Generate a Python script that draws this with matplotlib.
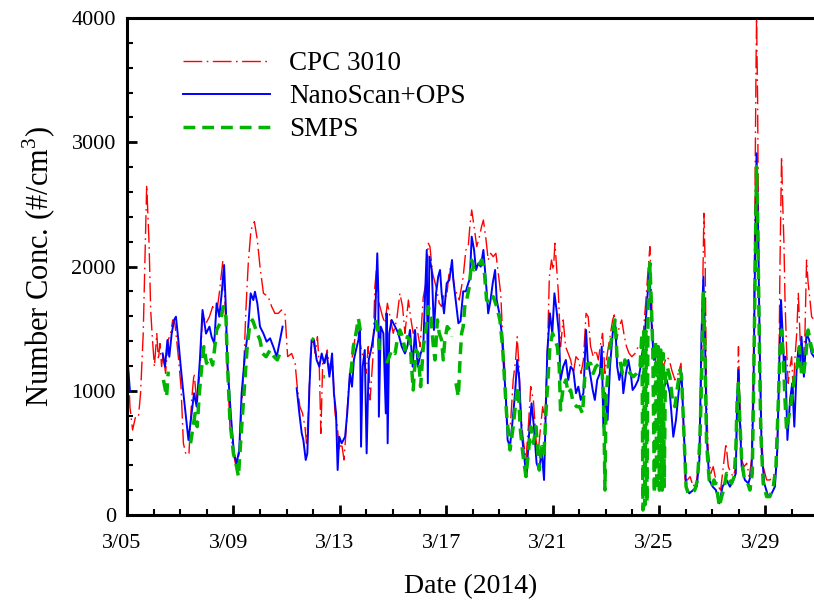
import numpy as np
import matplotlib
matplotlib.use("Agg")
import matplotlib.pyplot as plt
from matplotlib.ticker import MultipleLocator
from matplotlib.transforms import ScaledTranslation

plt.rcParams['font.family'] = ['Liberation Serif', 'DejaVu Serif']
plt.rcParams['mathtext.fontset'] = 'custom'
plt.rcParams['mathtext.rm'] = 'Liberation Serif'

nan = np.nan

# days since 3/05 00:00, number concentration (#/cm3)
cpc_t = [0, 0.11, 0.21, 0.32, 0.43, 0.51, 0.61, 0.74, 0.83, 0.89, 0.95, 1.03, 1.12, 1.18, 1.24, 1.30, 1.36, 1.45,
         1.55, 1.64, 1.72, 1.80, 1.93, 2.03, 2.12, 2.22, 2.33, 2.43, 2.52, 2.62, 2.74, 2.84, 2.97, 3.10, 3.22, 3.37,
         3.47, 3.60, 3.68, 3.77, 3.87, 4.00, 4.10, 4.22, 4.31, 4.40, 4.47, 4.56, 4.66, 4.79, 4.90, 5.00, 5.13, 5.31,
         5.44, 5.56, 5.69, 5.81, 5.94, 6.04, 6.19, 6.32, 6.40, 6.50, 6.60, 6.69, 6.75, 6.82, 6.91, 7.00, 7.08, 7.16,
         7.23, 7.29, 7.36, 7.44, 7.53, 7.63, 7.73, 7.82, 7.91, 7.98, 8.07, 8.16, 8.23, 8.32, 8.41, 8.51, 8.61, 8.70,
         8.79, 8.89, 8.99, 9.07, 9.14, 9.24, 9.32, 9.39, 9.45, 9.51, 9.61, 9.70, 9.79, 9.89, 10.01, 10.14, 10.26,
         10.36, 10.45, 10.58, 10.66, 10.76, 10.89, 11.02, 11.14, 11.24, 11.33, 11.39, 11.49, 11.62, 11.74, 11.83,
         11.92, 12.02, 12.12, 12.21, 12.31, 12.39, 12.49, 12.58, 12.64, 12.74, 12.83, 12.89, 12.96, 13.05, 13.15,
         13.25, 13.33, 13.40, 13.50, 13.58, 13.67, 13.77, 13.87, 13.96, 14.05, 14.12, 14.21, 14.27, 14.34, 14.42,
         14.52, 14.61, 14.67, 14.74, 14.80, 14.90, 15.00, 15.09, 15.18, 15.28, 15.38, 15.46, 15.55, 15.63, 15.71,
         15.80, 15.88, 15.96, 16.03, 16.09, 16.15, 16.22, 16.30, 16.40, 16.49, 16.59, 16.68, 16.78, 16.88, 16.98,
         17.07, 17.16, 17.26, 17.34, 17.43, 17.53, 17.63, 17.72, 17.81, 17.88, 17.97, 18.06, 18.16, 18.26, 18.32,
         18.41, 18.51, 18.60, 18.68, 18.78, 18.88, 18.98, 19.10, 19.22, 19.32, 19.41, 19.51, 19.60, 19.66, 19.72,
         19.76, 19.81, 19.91, 20.04, 20.16, 20.29, 20.39, 20.48, 20.60, 20.73, 20.83, 20.91, 20.98, 21.07, 21.17,
         21.29, 21.42, 21.52, 21.58, 21.64, 21.69, 21.74, 21.79, 21.85, 21.95, 22.04, 22.14, 22.23, 22.32, 22.42,
         22.52, 22.61, 22.71, 22.80, 22.89, 22.94, 22.99, 23.04, 23.11, 23.20, 23.30, 23.40, 23.48, 23.55, 23.61,
         23.65, 23.67, 23.71, 23.75, 23.80, 23.86, 23.92, 24.05, 24.17, 24.30, 24.42, 24.50, 24.55, 24.61, 24.65,
         24.70, 24.74, 24.80, 24.86, 24.93, 24.99, 25.05, 25.11, 25.18, 25.24, 25.30, 25.36, 25.43, 25.49, 25.55,
         25.61, 25.68, 25.74, 25.83]
cpc_v = [1435, 872, 684, 790, 790, 980, 1460, 2656, 2187, 1650, 1435, 1194, 1460, 1248, 1380, 1194, 1300, 1140,
         1408, 1460, 1570, 1543, 1274, 1033, 577, 483, 496, 926, 1140, 926, 1140, 1623, 1543, 1596, 1677, 1623,
         1784, 2039, 1730, 1194, 711, 496, 389, 496, 872, 1248, 1650, 2026, 2294, 2361, 2214, 1999, 1784, 1757,
         1677, 1623, 1623, 1650, 1623, 1274, 1300, 1221, 1033, 872, 818, 711, 577, 818, 1355, 1408, 1300, 1435,
         1194, 657, 1248, 1221, 1328, 1140, 1221, 818, 711, 523, 577, 443, 657, 980, 1194, 1328, 1489, 1462,
         1355, 1248, 1140, 1355, 926, 1248, 1838, 1999, 1730, 1677, 1596, 1543, 1704, 1596, 1462, 1570, 1784,
         1677, 1462, 1730, 1596, 1462, 1516, 1355, 1757, 1865, 2187, 2160, 1945, 1838, 1704, 1677,
         1784, 1757, 1972, 1999, 1838, 1784, 1730, 1838, 1918, 2133, 2160, 2321, 2455, 2321, 2160,
         2240, 2321, 2374, 2213, 2052, 2106, 2079, 2106, 1945, 1784, 1462, 1140, 818, 657, 738,
         1087, 1248, 1435, 1194, 818, 604, 443, 711, 1033, 926, 604, 496, 711, 872, 765,
         1248, 1918, 2052, 1972, 2187, 1999, 1784, 1355, 1570, 1355, 1300, 1248, 1140, 1274, 1248,
         1140, 1248, 1623, 1596, 1355, 1274, 1328, 1248, 1382, 1462, 1140, 1300, 1435, 1570, 1610,
         1408, 1516, 1570, 1462, 1355, 1300, 1274, 1300, 1355, 1380, 1462, 1730, 1999, 2160, 1784,
         1462, 1328, 1194, 1301, 1194, 1274, 1248, 1167, 1087, 1140, 1221, 791, 282, 282, 309,
         228, 282, 496, 926, 1730, 2428, 1999, 926, 523, 335, 389, 282, 228, 201, 389,
         577, 389, 335, 309, 389, 926, 1355, 926, 443, 389, 416, 309, 443, 1194, 2535,
         3609, 3998, 3340, 1999, 1194, 657, 389, 282, 282, 309, 389, 926, 1999, 2884, 2535,
         2187, 1730, 1328, 1060, 1194, 1274, 980, 1248, 1462, 1784, 1462, 1140, 1248, 1462, 2052,
         1865, 1730, 1596, 1570]

nano_t = [0, 0.11, 0.2, 1.34, 1.43, 1.52, 1.59, 1.68, 1.77, 1.84, 1.93, 2.02, 2.12, 2.31, 2.43, 2.52, 2.62, 2.74,
          2.84, 2.97, 3.10, 3.18, 3.28, 3.37, 3.47, 3.56, 3.65, 3.72, 3.77, 3.90, 4.02, 4.12, 4.22, 4.31, 4.44,
          4.54, 4.65, 4.75, 4.81, 4.90, 5.00, 5.13, 5.25, 5.38, 5.50, 5.63, 5.73, 5.85, 6.1, 6.38, 6.48, 6.57,
          6.63, 6.72, 6.78, 6.86, 6.94, 7.03, 7.13, 7.23, 7.32, 7.41, 7.51, 7.61, 7.71, 7.78, 7.86, 7.92, 7.98,
          8.07, 8.20, 8.28, 8.38, 8.46, 8.53, 8.61, 8.70, 8.76, 8.80, 8.86, 8.94, 9.01, 9.09, 9.20, 9.32, 9.41,
          9.45, 9.47, 9.54, 9.64, 9.73, 9.76, 9.80, 9.86, 9.95, 10.08, 10.20, 10.33, 10.45, 10.54, 10.64, 10.74,
          10.83, 10.93, 11.04, 11.14, 11.20, 11.27, 11.31, 11.37, 11.46, 11.54, 11.62, 11.70, 11.77, 11.83, 11.92,
          12.02, 12.12, 12.22, 12.27, 12.37, 12.46, 12.54, 12.64, 12.74, 12.83, 12.89, 12.96, 13.05, 13.12, 13.21,
          13.30, 13.40, 13.50, 13.58, 13.67, 13.75, 13.84, 13.90, 14.00, 14.09, 14.15, 14.25, 14.31, 14.40, 14.50,
          14.59, 14.67, 14.75, 14.84, 14.92, 15.02, 15.11, 15.21, 15.30, 15.40, 15.50, 15.59, 15.68, 15.73, 15.80,
          15.90, 15.99, 16.07, 16.15, 16.24, 16.30, 16.40, 16.50, 16.59, 16.68, 16.78, 16.88, 16.97, 17.06, 17.16,
          17.26, 17.32, 17.41, 17.51, 17.59, 17.68, 17.78, 17.85, 17.91, 17.98, 18.07, 18.16, 18.26, 18.35, 18.43,
          18.51, 18.60, 18.66, 18.76, 18.85, 18.94, 19.01, 19.10, 19.22, 19.29, 19.39, 19.47, 19.56, 19.64, 19.69,
          19.74, 19.81, 19.91, 20.04, 20.16, 20.29, 20.41, 20.54, 20.64, 20.76, 20.85, 20.94, 21.02, 21.14, 21.29,
          21.42, 21.52, 21.60, 21.67, 21.73, 21.79, 21.89, 22.02, 22.14, 22.27, 22.39, 22.54, 22.67, 22.80, 22.89,
          22.94, 22.99, 23.04, 23.11, 23.23, 23.36, 23.48, 23.55, 23.61, 23.67, 23.73, 23.80, 23.86, 23.96, 24.11,
          24.24, 24.36, 24.45, 24.52, 24.59, 24.65, 24.70, 24.75, 24.83, 24.93, 25.01, 25.09, 25.18, 25.24, 25.30,
          25.36, 25.45, 25.55, 25.65, 25.74, 25.83]
nano_v = [1300, 1000, nan, 1300, 1194, 1408, 1274, 1460, 1570, 1596, 1408, 1194, 980, 604, 818, 980, 872, 1248,
          1650, 1460, 1516, 1435, 1382, 1704, 1596, 1784, 2012, 1650, 1248, 818, 496, 416, 523, 980, 1300,
          1460, 1784, 1730, 1797, 1704, 1516, 1460, 1395, 1422, 1355, 1274, 1382, 1516, nan, 1020, 818, 657,
          604, 443, 496, 1033, 1408, 1408, 1248, 1194, 1300, 1221, 1300, 1113, 1300, 980, 818, 362, 630,
          577, 630, 818, 1140, 1033, 1248, 1328, 1408, 1516, 550, 1194, 1328, 496, 1248, 1355, 1516, 2106,
          1784, 791, 1516, 1462, 818, 1623, 577, 1462, 1570, 1516, 1462, 1355, 1300, 1355, 1489, 1194,
          1489, 1194, 1300, 1355, 1730, 2133, 1060, 2079, 1972, 1489, 1784, 1918, 1972, 1784, 1623,
          1865, 1891, 2052, 1891, 1704, 1543, 1560, 1800, 1800, 1865, 1900, 2240, 2133, 1972, 2026,
          1999, 2133, 1865, 1623, 1730, 1865, 1972, 1730, 1623, 1462, 1248, 926, 604, 550, 765,
          980, 1248, 1087, 657, 496, 309, 630, 899, 711, 416, 362, 523, 282, 711, 1300,
          1623, 1462, 1784, 1650, 1462, 1087, 1194, 1248, 1087, 1194, 1167, 980, 1033, 926, 980,
          1489, 1248, 1140, 1006, 926, 1087, 1140, 1355, 711, 980, 765, 1194, 1462, 1570, 1194,
          1087, 1194, 980, 1140, 1248, 1140, 1006, 1033, 1087, 1167, 1328, 1462, 1730, 1999, 1730,
          1462, 1248, 1301, 1194, 1006, 1087, 980, 630, 765, 1033, 1140, 657, 228, 174, 201,
          228, 443, 1462, 1918, 1462, 657, 282, 228, 201, 94, 228, 282, 228, 282, 335,
          926, 1167, 791, 389, 282, 255, 335, 926, 1999, 2911, 2267, 1194, 523, 255, 148,
          174, 228, 523, 1194, 1730, 1462, 1194, 1274, 604, 926, 1060, 711, 1194, 1328, 1194,
          1435, 1113, 1462, 1408, 1301, 1274]

smps_t = [1.37, 1.49, 1.55, 2.0, 2.39, 2.56, 2.64, 2.72, 2.81, 2.89, 2.99, 3.12, 3.22, 3.30, 3.37, 3.50, 3.62,
          3.72, 3.77, 3.87, 4.00, 4.12, 4.19, 4.27, 4.40, 4.52, 4.62, 4.72, 4.81, 4.90, 5.00, 5.10, 5.23, 5.38,
          5.53, 5.65, 5.75, 5.85, 6.4, 6.94, 7.03, 7.2, 7.38, 7.44, 8.0, 8.42, 8.51, 8.61, 8.70, 8.79, 9.1, 9.36,
          9.45, 9.49, 9.6, 9.76, 9.86, 9.95, 10.08, 10.16, 10.26, 10.36, 10.45, 10.54, 10.64, 10.70, 10.76, 10.86,
          10.95, 11.04, 11.14, 11.24, 11.33, 11.42, 11.52, 11.58, 11.67, 11.74, 11.83, 11.89, 11.95, 12.04, 12.14,
          12.21, 12.3, 12.37, 12.46, 12.52, 12.58, 12.64, 12.71, 12.77, 12.87, 12.96, 13.05, 13.21, 13.33, 13.42,
          13.52, 13.65, 13.77, 13.90, 14.02, 14.12, 14.27, 14.40, 14.52, 14.65, 14.71, 14.78, 14.88, 15.00, 15.09,
          15.18, 15.28, 15.38, 15.50, 15.59, 15.68, 15.75, 15.90, 16.00, 16.09, 16.18, 16.25, 16.30, 16.40, 16.50,
          16.59, 16.68, 16.78, 16.91, 17.01, 17.13, 17.22, 17.32, 17.43, 17.53, 17.63, 17.76, 17.85, 17.91, 17.94,
          17.97, 18.01, 18.06, 18.16, 18.26, 18.35, 18.43, 18.53, 18.63, 18.72, 18.81, 18.91, 19.04, 19.16, 19.29,
          19.36, 19.40, 19.43, 19.47, 19.51, 19.55, 19.59, 19.66, 19.71, 19.77, 19.83, 19.87, 19.92, 19.97, 20.02,
          20.07, 20.12, 20.16, 20.20, 20.24, 20.31, 20.41, 20.51, 20.60, 20.70, 20.79, 20.85, 20.94, 21.02, 21.10,
          21.23, 21.35, 21.45, 21.54, 21.60, 21.67, 21.73, 21.79, 21.89, 21.98, 22.07, 22.17, 22.27, 22.36, 22.46,
          22.54, 22.64, 22.73, 22.83, 22.89, 22.94, 22.99, 23.04, 23.11, 23.20, 23.30, 23.42, 23.51, 23.57, 23.62,
          23.67, 23.72, 23.77, 23.83, 23.92, 24.05, 24.17, 24.30, 24.40, 24.49, 24.55, 24.61, 24.68, 24.74, 24.80,
          24.86, 24.95, 25.02, 25.11, 25.20, 25.28, 25.36, 25.43, 25.53, 25.61, 25.70, 25.80]
smps_v = [1087, 952, 1154, nan, 577, 818, 711, 980, 1194, 1355, 1221, 1274, 1207, 1350, 1489, 1543, 1677,
          1596, 1248, 765, 496, 389, 309, 577, 980, 1355, 1543, 1570, 1516, 1460, 1408, 1300, 1274, 1328,
          1274, 1248, 1300, 1314, nan, 1422, 1408, nan, 1113, 1113, nan, 1140, 1355, 1462, 1583, 1462, nan, 1570,
          1462, 1328, nan, 1221, 1274, 1328, 1300, 1408, 1489, 1435, 1328, 1435, 1408, 1194, 1006, 1328,
          1300, 1033, 1355, 1489, 1677, 1596, 1355, 1248, 1570, 1462, 1408, 1248, 1408, 1516, 1489,
          1435, nan, 1060, 952, 1248, 1462, 1516, 1704, 1730, 1838, 2052, 1972, 1999, 2052, 1999,
          1730, 1704, 1757, 1677, 1570, 1355, 818, 523, 711, 980, 1033, 711, 496, 309, 496,
          711, 577, 711, 362, 550, 496, 818, 1355, 1462, 1408, 1355, 1194, 845, 1033, 1087,
          980, 1006, 899, 872, 872, 818, 1140, 1221, 1221, 1140, 1194, 1221, 1194, 980, 657,
          201, 926, 1087, 1355, 1462, 1570, 1248, 1248, 1140, 1248, 1194, 1140, 1113, 1140, 1194,
          1462, 40, 1500, 80, 1480, 100, 1650, 2026, 1730, 1328, 174, 1400, 201, 1355, 200,
          1328, 200, 1300, 228, 1100, 1194, 1113, 926, 872, 1033, 1167, 1113, 657, 228, 174,
          174, 201, 282, 604, 1060, 1784, 1328, 577, 282, 228, 282, 228, 67, 148, 228,
          335, 282, 255, 309, 523, 926, 1060, 765, 443, 309, 282, 201, 335, 1194, 1999,
          2804, 2267, 1462, 657, 255, 148, 148, 228, 389, 926, 1328, 1489, 1248, 926, 684,
          765, 872, 980, 1140, 1194, 1355, 1140, 1113, 1301, 1489, 1382, 1301]

tick_days = [0, 4, 8, 12, 16, 20, 24]
tick_labels = ['3/05', '3/09', '3/13', '3/17', '3/21', '3/25', '3/29']

fig = plt.figure(figsize=(8.14, 6.04), dpi=100)
ax = fig.add_axes([127 / 814, 89 / 604, 687 / 814, 497 / 604])

ax.plot(cpc_t, cpc_v, color='#ff0000', lw=1.0, dashes=(13.5, 3.2, 1.2, 3.2), label='CPC 3010')
ax.plot(nano_t, np.array(nano_v, dtype=float), color='#0000ff', lw=1.4, label='NanoScan+OPS')
ax.plot(smps_t, np.array(smps_v, dtype=float), color='#00b400', lw=2.5, dashes=(3.4, 2.0), label='SMPS')

ax.set_xlim(0, 25.83)
ax.set_ylim(0, 4000)
ax.set_xticks(tick_days)
ax.set_xticklabels(tick_labels)
ax.xaxis.set_minor_locator(MultipleLocator(1))
ax.set_yticks([0, 1000, 2000, 3000, 4000])
ax.yaxis.set_minor_locator(MultipleLocator(200))

ax.tick_params(which='both', direction='in', top=False, right=False, labelsize=16)
ax.tick_params(which='major', length=7, width=2)
ax.tick_params(which='minor', length=4.5, width=1.5)
ax.tick_params(axis='x', which='major', pad=14)
ax.tick_params(axis='y', which='major', pad=8)
for s in ['left', 'bottom', 'top']:
    ax.spines[s].set_linewidth(2.2)
ax.spines['right'].set_visible(False)

# date labels sit a little left of their ticks in the original
shift = ScaledTranslation(-5 / 100, 0, fig.dpi_scale_trans)
for lab in ax.get_xticklabels():
    lab.set_transform(lab.get_transform() + shift)

ax.set_xlabel('Date (2014)', fontsize=20, labelpad=15)
ax.set_ylabel(r'Number Conc. (#/cm$^3$)', fontsize=22, labelpad=10)

ax.legend(loc='upper left', bbox_to_anchor=(183 / 814, 1 - 51 / 604), bbox_transform=fig.transFigure,
          frameon=False, fontsize=19.5, handlelength=3.2, handletextpad=0.72, labelspacing=0.3, borderpad=0,
          borderaxespad=0)

fig.savefig('out.png', dpi=100)
